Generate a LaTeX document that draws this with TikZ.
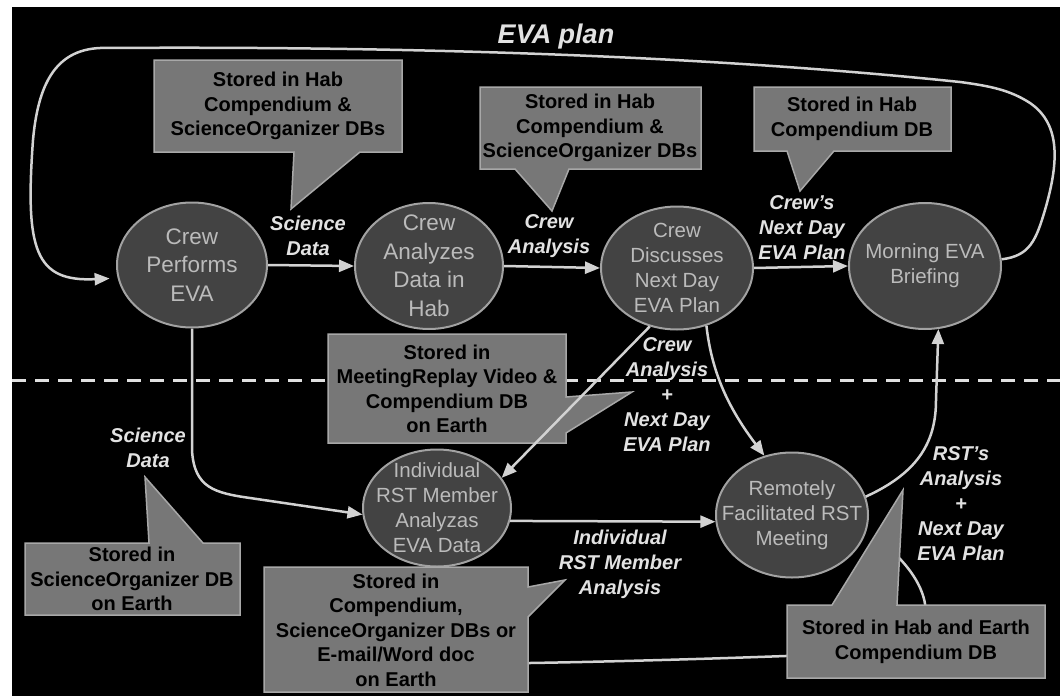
\documentclass[tikz,border=0pt]{standalone}
\usepackage{fontspec}
\setmainfont{Liberation Sans}
\usetikzlibrary{shapes.geometric}
\usetikzlibrary{arrows.meta}
\usetikzlibrary{math}

\definecolor{stagefill}{HTML}{434343}
\definecolor{stageline}{HTML}{A2A2A2}
\definecolor{stagetext}{HTML}{BBBBBB}
\definecolor{memofill}{HTML}{777777}
\definecolor{memoline}{HTML}{A8A8A8}
\definecolor{flowline}{HTML}{D2D2D2}
\definecolor{labeltext}{HTML}{E2E2E2}

\begin{document}
\begin{tikzpicture}[x=1pt,y=-1pt,
  stage/.style={ellipse, draw=stageline, fill=stagefill, line width=2pt,
    text=stagetext, inner xsep=-20pt, inner ysep=-14pt, align=center,
    font=\fontsize{20.5}{25}\selectfont},
  bigstage/.style={stage, font=\fontsize{22.5}{28.5}\selectfont},
  memo/.style={fill=memofill, draw=memoline, line width=1.5pt},
  memotext/.style={align=center, text=black,
    font=\fontsize{20}{24.5}\selectfont\bfseries},
  link/.style={draw=flowline, line width=2.5pt},
  flow/.style={link, -{Triangle[length=15pt,width=12pt]}},
  flowlabel/.style={align=center, text=labeltext,
    font=\fontsize{20}{25}\selectfont\bfseries\itshape},
  ]

  \tikzmath{
    \cuty = 380;   % height of the Hab / Earth divide
    \dashon = 14;  % dash length of the divide
    \dashoff = 9;  % gap length of the divide
  }

  % Frame and dark background
  \useasboundingbox (0,0) rectangle (1060,696);
  \fill[white] (0,0) rectangle (1060,696);
  \fill[black] (12,7) rectangle (1060,696);

  % Divide between Hab and Earth
  \draw[white!88!black, line width=3pt, dash pattern=on \dashon pt off \dashoff pt]
    (12,\cuty) -- (1060,\cuty);

  % Stages in the Hab
  \node[bigstage, minimum width=150pt, minimum height=125pt] (perf) at (192,265)
    {Crew\\Performs\\EVA};
  \node[bigstage, minimum width=148pt, minimum height=126pt] (anl) at (429,266)
    {Crew\\Analyzes\\Data in\\Hab};
  \node[stage, minimum width=152pt, minimum height=123pt] (disc) at (677,268)
    {Crew\\Discusses\\Next Day\\EVA Plan};
  \node[stage, minimum width=152pt, minimum height=126pt] (brief) at (925,266)
    {Morning EVA\\Briefing};

  % Stages on Earth
  \node[stage, minimum width=148pt, minimum height=117pt] (indiv) at (437,508)
    {Individual\\RST Member\\Analyzas\\EVA Data};
  \node[stage, minimum width=152pt, minimum height=125pt] (remote) at (792,515)
    {Remotely\\Facilitated RST\\Meeting};

  % Line running behind the lower boxes
  \coordinate (hidend) at (885,545);
  \draw[link] (indiv.south) .. controls (450,660) and (480,663) .. (530,663)
    .. controls (650,661) and (800,656) .. (880,652)
    .. controls (940,645) and (940,590) .. (hidend);

  % Storage callouts
  \filldraw[memo] (154,60) -- (402,60) -- (402,152) -- (360,152) -- (291,209)
    -- (294,152) -- (154,152) -- cycle;
  \node[memotext] (memoA) at (278,106)
    {Stored in Hab\\Compendium \&\\ScienceOrganizer DBs};

  \filldraw[memo] (480,87) -- (701,87) -- (701,169) -- (569,169) -- (552,211)
    -- (515,169) -- (480,169) -- cycle;
  \node[memotext] (memoB) at (590,128)
    {Stored in Hab\\Compendium \&\\ScienceOrganizer DBs};

  \filldraw[memo] (754,87) -- (951,87) -- (951,151) -- (834,151) -- (800,191)
    -- (787,151) -- (754,151) -- cycle;
  \node[memotext] (memoC) at (852,119) {Stored in Hab\\Compendium DB};

  \filldraw[memo] (328,334) -- (566,334) -- (566,397) -- (632,392) -- (566,433)
    -- (566,443) -- (328,443) -- cycle;
  \node[memotext] (memoD) at (447,389)
    {Stored in\\MeetingReplay Video \&\\Compendium DB\\on Earth};

  \filldraw[memo] (25,543) -- (149,543) -- (145,477) -- (203,543) -- (240,543)
    -- (240,615) -- (25,615) -- cycle;
  \node[memotext] (memoE) at (132,579)
    {Stored in\\ScienceOrganizer DB\\on Earth};

  \filldraw[memo] (264,567) -- (528,567) -- (528,587) -- (565,580) -- (528,617)
    -- (528,692) -- (264,692) -- cycle;
  \node[memotext] (memoF) at (396,630)
    {Stored in\\Compendium,\\ScienceOrganizer DBs or\\E-mail/Word doc\\on Earth};

  \filldraw[memo] (787,605) -- (832,605) -- (903,490) -- (897,605) -- (1045,605)
    -- (1045,678) -- (787,678) -- cycle;
  \node[memotext] (memoG) at (916,642)
    {Stored in Hab and Earth\\Compendium DB};

  % Flows in the Hab
  \draw[flow] (perf.east) -- (anl.west);
  \draw[flow] (anl.east) -- (disc.west);
  \draw[flow] (disc.east) -- (brief.west);

  % EVA plan loop back to the crew
  \draw[flow, shorten >=8pt] (brief.5) .. controls (1030,256) and (1036,240) .. (1045,210)
    .. controls (1058,165) and (1062,125) .. (1030,103)
    .. controls (1010,90) and (990,86) .. (960,82)
    .. controls (700,55) and (400,46) .. (100,48)
    .. controls (55,50) and (38,85) .. (33,140)
    .. controls (25,250) and (35,282) .. (perf.190);

  % Flows down to Earth and back
  \draw[flow] (perf.south) -- (192,450) .. controls (194,488) and (215,493) .. (250,498)
    -- (indiv.185);
  \draw[flow] (disc.245) -- (indiv.25);
  \draw[flow] (disc.297) .. controls (712,375) and (730,410) .. (remote.115);
  \draw[flow] (indiv.-10) -- (remote.185);
  \draw[flow] (remote.14) .. controls (920,472) and (936,440) .. (936,400)
    -- (brief.282);

  % Flow labels
  \node[flowlabel, font=\fontsize{27}{30}\selectfont\bfseries\itshape] (plan) at (556,37)
    {EVA plan};
  \node[flowlabel] (sciA) at (308,236) {Science\\Data};
  \node[flowlabel] (crewA) at (549,236) {Crew\\Analysis};
  \node[flowlabel] (crewP) at (802,228) {Crew’s\\Next Day\\EVA Plan};
  \node[flowlabel] (crewB) at (667,395) {Crew\\Analysis\\+\\Next Day\\EVA Plan};
  \node[flowlabel] (sciB) at (148,448) {Science\\Data};
  \node[flowlabel] (indA) at (620,564) {Individual\\RST Member\\Analysis};
  \node[flowlabel] (rstB) at (961,504) {RST’s\\Analysis\\+\\Next Day\\EVA Plan};

\end{tikzpicture}
\end{document}
